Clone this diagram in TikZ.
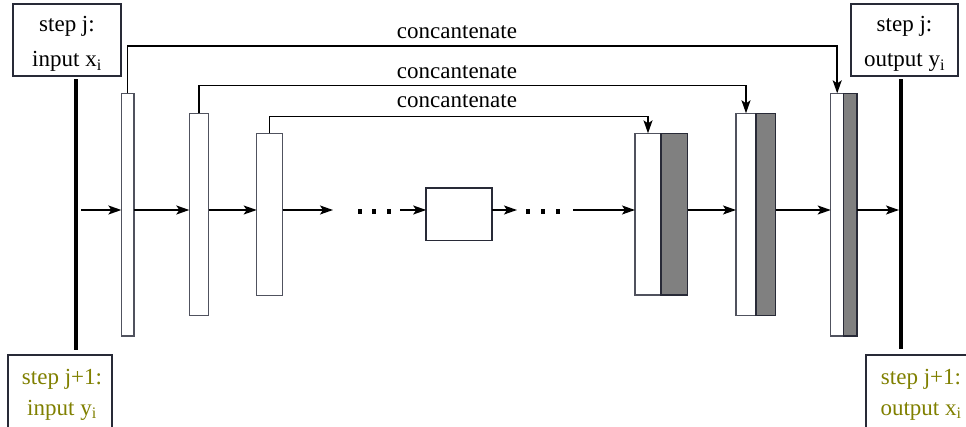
\documentclass[tikz,border=0pt]{standalone}
\usepackage{fontspec}
\setmainfont{Liberation Serif}
\usetikzlibrary{arrows.meta}

\definecolor{olivetext}{RGB}{128,128,0}
\definecolor{barline}{RGB}{80,82,94}
\definecolor{boxline}{RGB}{40,42,55}
\definecolor{shadefill}{RGB}{128,128,128}

\tikzset{
  every node/.style={font=\fontsize{23}{35}\selectfont},
  layer/.style={draw=barline, line width=1.3pt, fill=white, rectangle,
                inner sep=0pt, outer sep=0pt},
  shadelayer/.style={layer, draw=boxline, fill=shadefill},
  stepbox/.style={draw=boxline, line width=1.1pt, fill=white, rectangle,
                  inner sep=0pt, outer sep=0pt},
  boxtext/.style={align=center, inner sep=0pt},
  nexttext/.style={boxtext, text=olivetext,
                   font=\fontsize{23}{31}\selectfont},
  rail/.style={fill=black, rectangle, inner sep=0pt, outer sep=0pt,
               minimum width=4pt},
  dotmark/.style={fill=black, rectangle, inner sep=0pt,
                  minimum width=4.5pt, minimum height=4.5pt},
  flow/.style={line width=1.5pt,
               -{Stealth[length=13pt,width=9pt,inset=3pt]}},
  link/.style={flow},
  lbl/.style={anchor=base, inner sep=0pt},
}

\begin{document}
\begin{tikzpicture}[x=1pt,y=-1pt]
  \useasboundingbox (0,0) rectangle (966,427);

  % input / output boxes
  \node[stepbox, minimum width=108pt, minimum height=72pt] (inTop) at (67,40) {};
  \node[boxtext] (inTopText) at ([yshift=-4pt]inTop.center)
       {step j:\\input x\textsubscript{i}};
  \node[stepbox, minimum width=107pt, minimum height=72pt] (outTop) at (904.5,40) {};
  \node[boxtext] (outTopText) at ([yshift=-4pt]outTop.center)
       {step j:\\output y\textsubscript{i}};
  \node[stepbox, minimum width=104pt, minimum height=73pt] (inNext) at (60,391.5) {};
  \node[nexttext] (inNextText) at ([yshift=-3pt,xshift=2pt]inNext.center)
       {step j+1:\\input y\textsubscript{i}};
  \node[stepbox, minimum width=104pt, minimum height=73pt] (outNext) at (918,391.5) {};
  \node[nexttext] (outNextText) at ([yshift=-3pt,xshift=3pt]outNext.center)
       {step j+1:\\output x\textsubscript{i}};

  % thick rails
  \node[rail, minimum height=271pt] (railL) at (76,214.5) {};
  \node[rail, minimum height=270pt] (railR) at (901,214) {};

  % encoder layers
  \node[layer, minimum width=12.7pt, minimum height=242.7pt] (bar1) at (127.7,214.7) {};
  \node[layer, minimum width=19.4pt, minimum height=202pt]   (bar2) at (199,214.3) {};
  \node[layer, minimum width=26pt,   minimum height=162pt]   (bar3) at (269.7,214.3) {};

  % bottleneck
  \node[stepbox, line width=1.6pt, minimum width=66pt, minimum height=52.4pt] (mid) at (459.2,214.5) {};

  % decoder layers (copied part + computed part)
  \node[layer, minimum width=26pt, minimum height=161.7pt] (bar4w) at (648,214.2) {};
  \node[shadelayer, minimum width=26.7pt, minimum height=161.7pt, anchor=west] (bar4g) at (bar4w.east) {};
  \node[layer, minimum width=20pt, minimum height=202pt] (bar5w) at (746,214.3) {};
  \node[shadelayer, minimum width=19.7pt, minimum height=202pt, anchor=west] (bar5g) at (bar5w.east) {};
  \node[layer, minimum width=13pt, minimum height=242.7pt] (bar6w) at (837.2,214.7) {};
  \node[shadelayer, minimum width=13.3pt, minimum height=242.7pt, anchor=west] (bar6g) at (bar6w.east) {};

  % ellipsis marks
  \node[dotmark] (dot1) at (360,211.5) {};
  \node[dotmark] (dot2) at (374,211.5) {};
  \node[dotmark] (dot3) at (389,211.5) {};
  \node[dotmark] (dot4) at (528,211.5) {};
  \node[dotmark] (dot5) at (543,211.5) {};
  \node[dotmark] (dot6) at (558,211.5) {};

  % main data path
  \coordinate (axis) at (0,210);
  \coordinate (gapA) at (333,210);
  \coordinate (gapB) at (400,210);
  \coordinate (gapC) at (517,210);
  \coordinate (gapD) at (573,210);
  \draw[flow] ([xshift=3pt]railL.east |- axis) -- (bar1.west |- axis);
  \draw[flow] (bar1.east |- axis) -- (bar2.west |- axis);
  \draw[flow] (bar2.east |- axis) -- (bar3.west |- axis);
  \draw[flow] (bar3.east |- axis) -- (gapA);
  \draw[flow] (gapB) -- (mid.west |- axis);
  \draw[flow] (mid.east |- axis) -- (gapC);
  \draw[flow] (gapD) -- (bar4w.west |- axis);
  \draw[flow] (bar4g.east |- axis) -- (bar5w.west |- axis);
  \draw[flow] (bar5g.east |- axis) -- (bar6w.west |- axis);
  \draw[flow] (bar6g.east |- axis) -- (railR.west |- axis);

  % skip connections
  \coordinate (skip1) at (457,46);
  \coordinate (skip2) at (457,85.3);
  \coordinate (skip3) at (457,116.5);
  \draw[link] (bar1.north) |- (skip1) -| (bar6w.north);
  \draw[link] (bar2.north) |- (skip2) -| (bar5w.north);
  \draw[link] (bar3.north) |- (skip3) -| (bar4w.north);

  \node[lbl] (cat1) at (457,39)    {concantenate};
  \node[lbl] (cat2) at (457,79)    {concantenate};
  \node[lbl] (cat3) at (457,107.7) {concantenate};
\end{tikzpicture}
\end{document}
